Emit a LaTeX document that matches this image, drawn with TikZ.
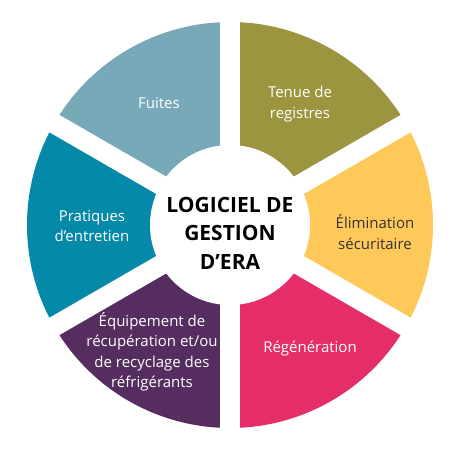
\documentclass[tikz,border=0pt]{standalone}
\usepackage{fontspec}
\setmainfont{Open Sans}
\definecolor{cfuites}{HTML}{78A9B9}
\definecolor{ctenue}{HTML}{9B9540}
\definecolor{celim}{HTML}{FEC959}
\definecolor{cregen}{HTML}{E52E67}
\definecolor{cequip}{HTML}{562D5F}
\definecolor{cprat}{HTML}{0589A8}
\definecolor{cdark}{HTML}{333333}
\tikzset{
  sectorlabel/.style={align=center, text=white, font=\fontsize{15}{20.5}\selectfont, inner sep=0pt},
  centerlabel/.style={align=center, text=black, font=\bfseries\fontsize{21}{28.5}\selectfont, inner sep=0pt},
  gapline/.style={white, line width=20pt}
}
\begin{document}
\begin{tikzpicture}[x=1pt,y=1pt]
\useasboundingbox (-230,-225) rectangle (230,225);
\def\R{203}
\fill[cfuites] (0,0) -- (90:\R) arc[start angle=90,end angle=150,radius=\R] -- cycle;
\fill[cprat] (0,0) -- (150:\R) arc[start angle=150,end angle=210,radius=\R] -- cycle;
\fill[cequip] (0,0) -- (210:\R) arc[start angle=210,end angle=270,radius=\R] -- cycle;
\fill[cregen] (0,0) -- (270:\R) arc[start angle=270,end angle=330,radius=\R] -- cycle;
\fill[celim] (0,0) -- (330:\R) arc[start angle=330,end angle=390,radius=\R] -- cycle;
\fill[ctenue] (0,0) -- (30:\R) arc[start angle=30,end angle=90,radius=\R] -- cycle;
\draw[gapline] (90:210) -- (270:210);
\draw[gapline] (30:210) -- (210:210);
\draw[gapline] (150:210) -- (330:210);
\fill[white] (0,0) circle[radius=80];
\node[centerlabel] (center) at (0,-8) {LOGICIEL DE\\GESTION\\D’ERA};
\node[sectorlabel] (fuites) at (-71,122) {Fuites};
\node[sectorlabel] (tenue) at (70,121) {Tenue de\\registres};
\node[sectorlabel] (prat) at (-138,-1) {Pratiques\\d’entretien};
\node[sectorlabel, text=cdark] (elim) at (145,-7) {Élimination\\sécuritaire};
\node[sectorlabel] (regen) at (80,-124) {Régénération};
\node[sectorlabel] (equip) at (-78,-127) {Équipement de\\récupération et/ou\\de recyclage des\\réfrigérants};
\end{tikzpicture}
\end{document}
